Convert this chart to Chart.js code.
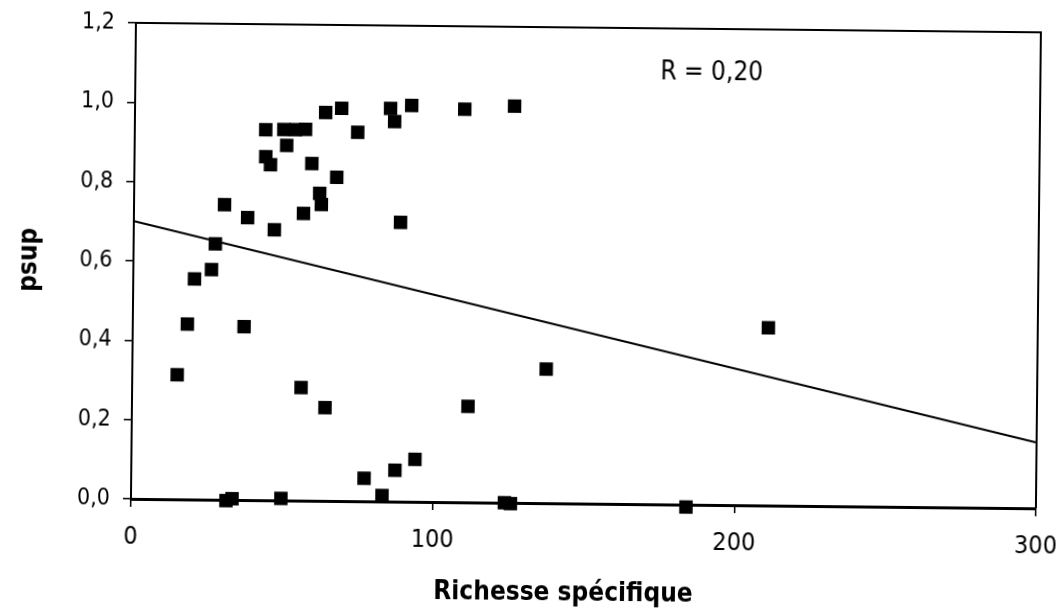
<!DOCTYPE html>
<html>
<head>
<meta charset="utf-8">
<script src="https://cdn.jsdelivr.net/npm/chart.js@4/dist/chart.umd.min.js"></script>
<style>
  html, body { margin: 0; padding: 0; background: #fff; overflow: hidden; }
  /* the scanned original is slightly tilted */
  #wrap { width: 1059px; height: 611px; transform: rotate(0.6deg); transform-origin: 50% 50%; }
</style>
</head>
<body>
<div id="wrap"><canvas id="psupChart"></canvas></div>
<script>
// values
const richesse = [14.9, 18.1, 20.3, 25.9, 27.1, 30.0, 36.9, 37.7, 31.5, 33.5,
  43.4, 43.5, 45.1, 46.6, 49.7, 49.4, 50.4, 53.3, 56.6, 56.0,
  56.2, 58.8, 61.5, 62.1, 63.2, 64.0, 67.1, 68.5, 73.9, 77.2,
  83.2, 84.7, 86.1, 87.4, 88.4, 91.7, 94.0, 109.3, 111.4, 123.8,
  125.8, 125.8, 137.2, 184.0, 210.7];
const psup = [0.314, 0.442, 0.556, 0.580, 0.645, 0.744, 0.437, 0.712, -0.002, 0.003,
  0.934, 0.866, 0.846, 0.682, 0.005, 0.935, 0.895, 0.935, 0.936, 0.285,
  0.724, 0.850, 0.775, 0.747, 0.979, 0.235, 0.816, 0.990, 0.930, 0.058,
  0.015, 0.991, 0.958, 0.079, 0.704, 0.999, 0.107, 0.991, 0.242, 0.0,
  -0.002, 1.0, 0.338, -0.006, 0.448];

// regression line end points
const lineX = [0, 300];
const regressionY = [0.70, 0.166];

const xTicks = [0, 100, 200, 300];
const yTicks = [0, 0.2, 0.4, 0.6, 0.8, 1.0, 1.2];
const rLabel = 'R = 0,20';
const xTitle = 'Richesse spécifique';
const yTitle = 'psup';

const points = richesse.map((x, i) => ({ x: x, y: psup[i] }));
const regression = lineX.map((x, i) => ({ x: x, y: regressionY[i] }));

const tickFont = { family: "'DejaVu Sans Condensed', 'DejaVu Sans', sans-serif", size: 23 };
const xTickFont = { family: "'Liberation Sans Narrow', 'DejaVu Sans Condensed', sans-serif", size: 25 };
const titleFont = { family: "'Liberation Sans Narrow', 'DejaVu Sans Condensed', sans-serif", size: 26, weight: 'bold' };

// top and right frame, R label, x title
const framePlugin = {
  id: 'frame',
  afterDraw(chart) {
    const { ctx, chartArea, scales } = chart;
    ctx.save();
    ctx.strokeStyle = '#000';
    ctx.lineWidth = 2;
    ctx.beginPath();
    ctx.moveTo(chartArea.left, chartArea.top);
    ctx.lineTo(chartArea.right, chartArea.top);
    ctx.lineTo(chartArea.right, chartArea.bottom);
    ctx.stroke();
    ctx.fillStyle = '#000';
    ctx.font = "26px 'DejaVu Sans Condensed', 'DejaVu Sans', sans-serif";
    ctx.textAlign = 'left';
    ctx.textBaseline = 'middle';
    ctx.fillText(rLabel, scales.x.getPixelForValue(174), scales.y.getPixelForValue(1.089));
    ctx.font = "bold 26px 'Liberation Sans Narrow', 'DejaVu Sans Condensed', sans-serif";
    ctx.textAlign = 'center';
    ctx.fillText(xTitle, 566, 593);
    ctx.restore();
  }
};

const ctx = document.getElementById('psupChart').getContext('2d');
new Chart(ctx, {
  type: 'scatter',
  data: {
    datasets: [{
      label: 'psup',
      data: points,
      pointStyle: 'rect',
      pointRadius: 9.5,
      pointHoverRadius: 9.5,
      backgroundColor: '#000',
      borderColor: '#000',
      borderWidth: 0,
      clip: false
    }, {
      type: 'line',
      label: 'régression',
      data: regression,
      borderColor: '#000',
      borderWidth: 2,
      pointRadius: 0,
      fill: false,
      clip: false
    }]
  },
  options: {
    responsive: true,
    maintainAspectRatio: false,
    animation: false,
    devicePixelRatio: 1,
    layout: { padding: { top: 27, right: 21, left: 0, bottom: 0 } },
    plugins: {
      legend: { display: false },
      tooltip: { enabled: false }
    },
    scales: {
      x: {
        type: 'linear',
        min: 0,
        max: 300,
        afterBuildTicks: axis => { axis.ticks = xTicks.map(v => ({ value: v })); },
        afterFit: axis => { axis.height = 108; axis.paddingLeft = 0; axis.paddingRight = 0; },
        border: { color: '#000', width: 3 },
        grid: { drawOnChartArea: false, drawTicks: true, tickLength: 8, color: '#000', lineWidth: 1.5 },
        ticks: { color: '#000', font: xTickFont, padding: 15, maxRotation: 0 },
        title: { display: false }
      },
      y: {
        min: 0,
        max: 1.2,
        afterBuildTicks: axis => { axis.ticks = yTicks.map(v => ({ value: v })); },
        afterFit: axis => { axis.width = 133; axis.paddingTop = 0; axis.paddingBottom = 0; },
        border: { color: '#000', width: 2 },
        grid: { drawOnChartArea: false, drawTicks: true, tickLength: 8, color: '#000', lineWidth: 1.5 },
        ticks: {
          color: '#000',
          font: tickFont,
          padding: 13,
          callback: v => v.toFixed(1).replace('.', ',')
        },
        title: {
          display: true,
          text: yTitle,
          color: '#000',
          font: titleFont,
          padding: { top: 14, bottom: 0 }
        }
      }
    }
  },
  plugins: [framePlugin]
});
</script>
</body>
</html>
